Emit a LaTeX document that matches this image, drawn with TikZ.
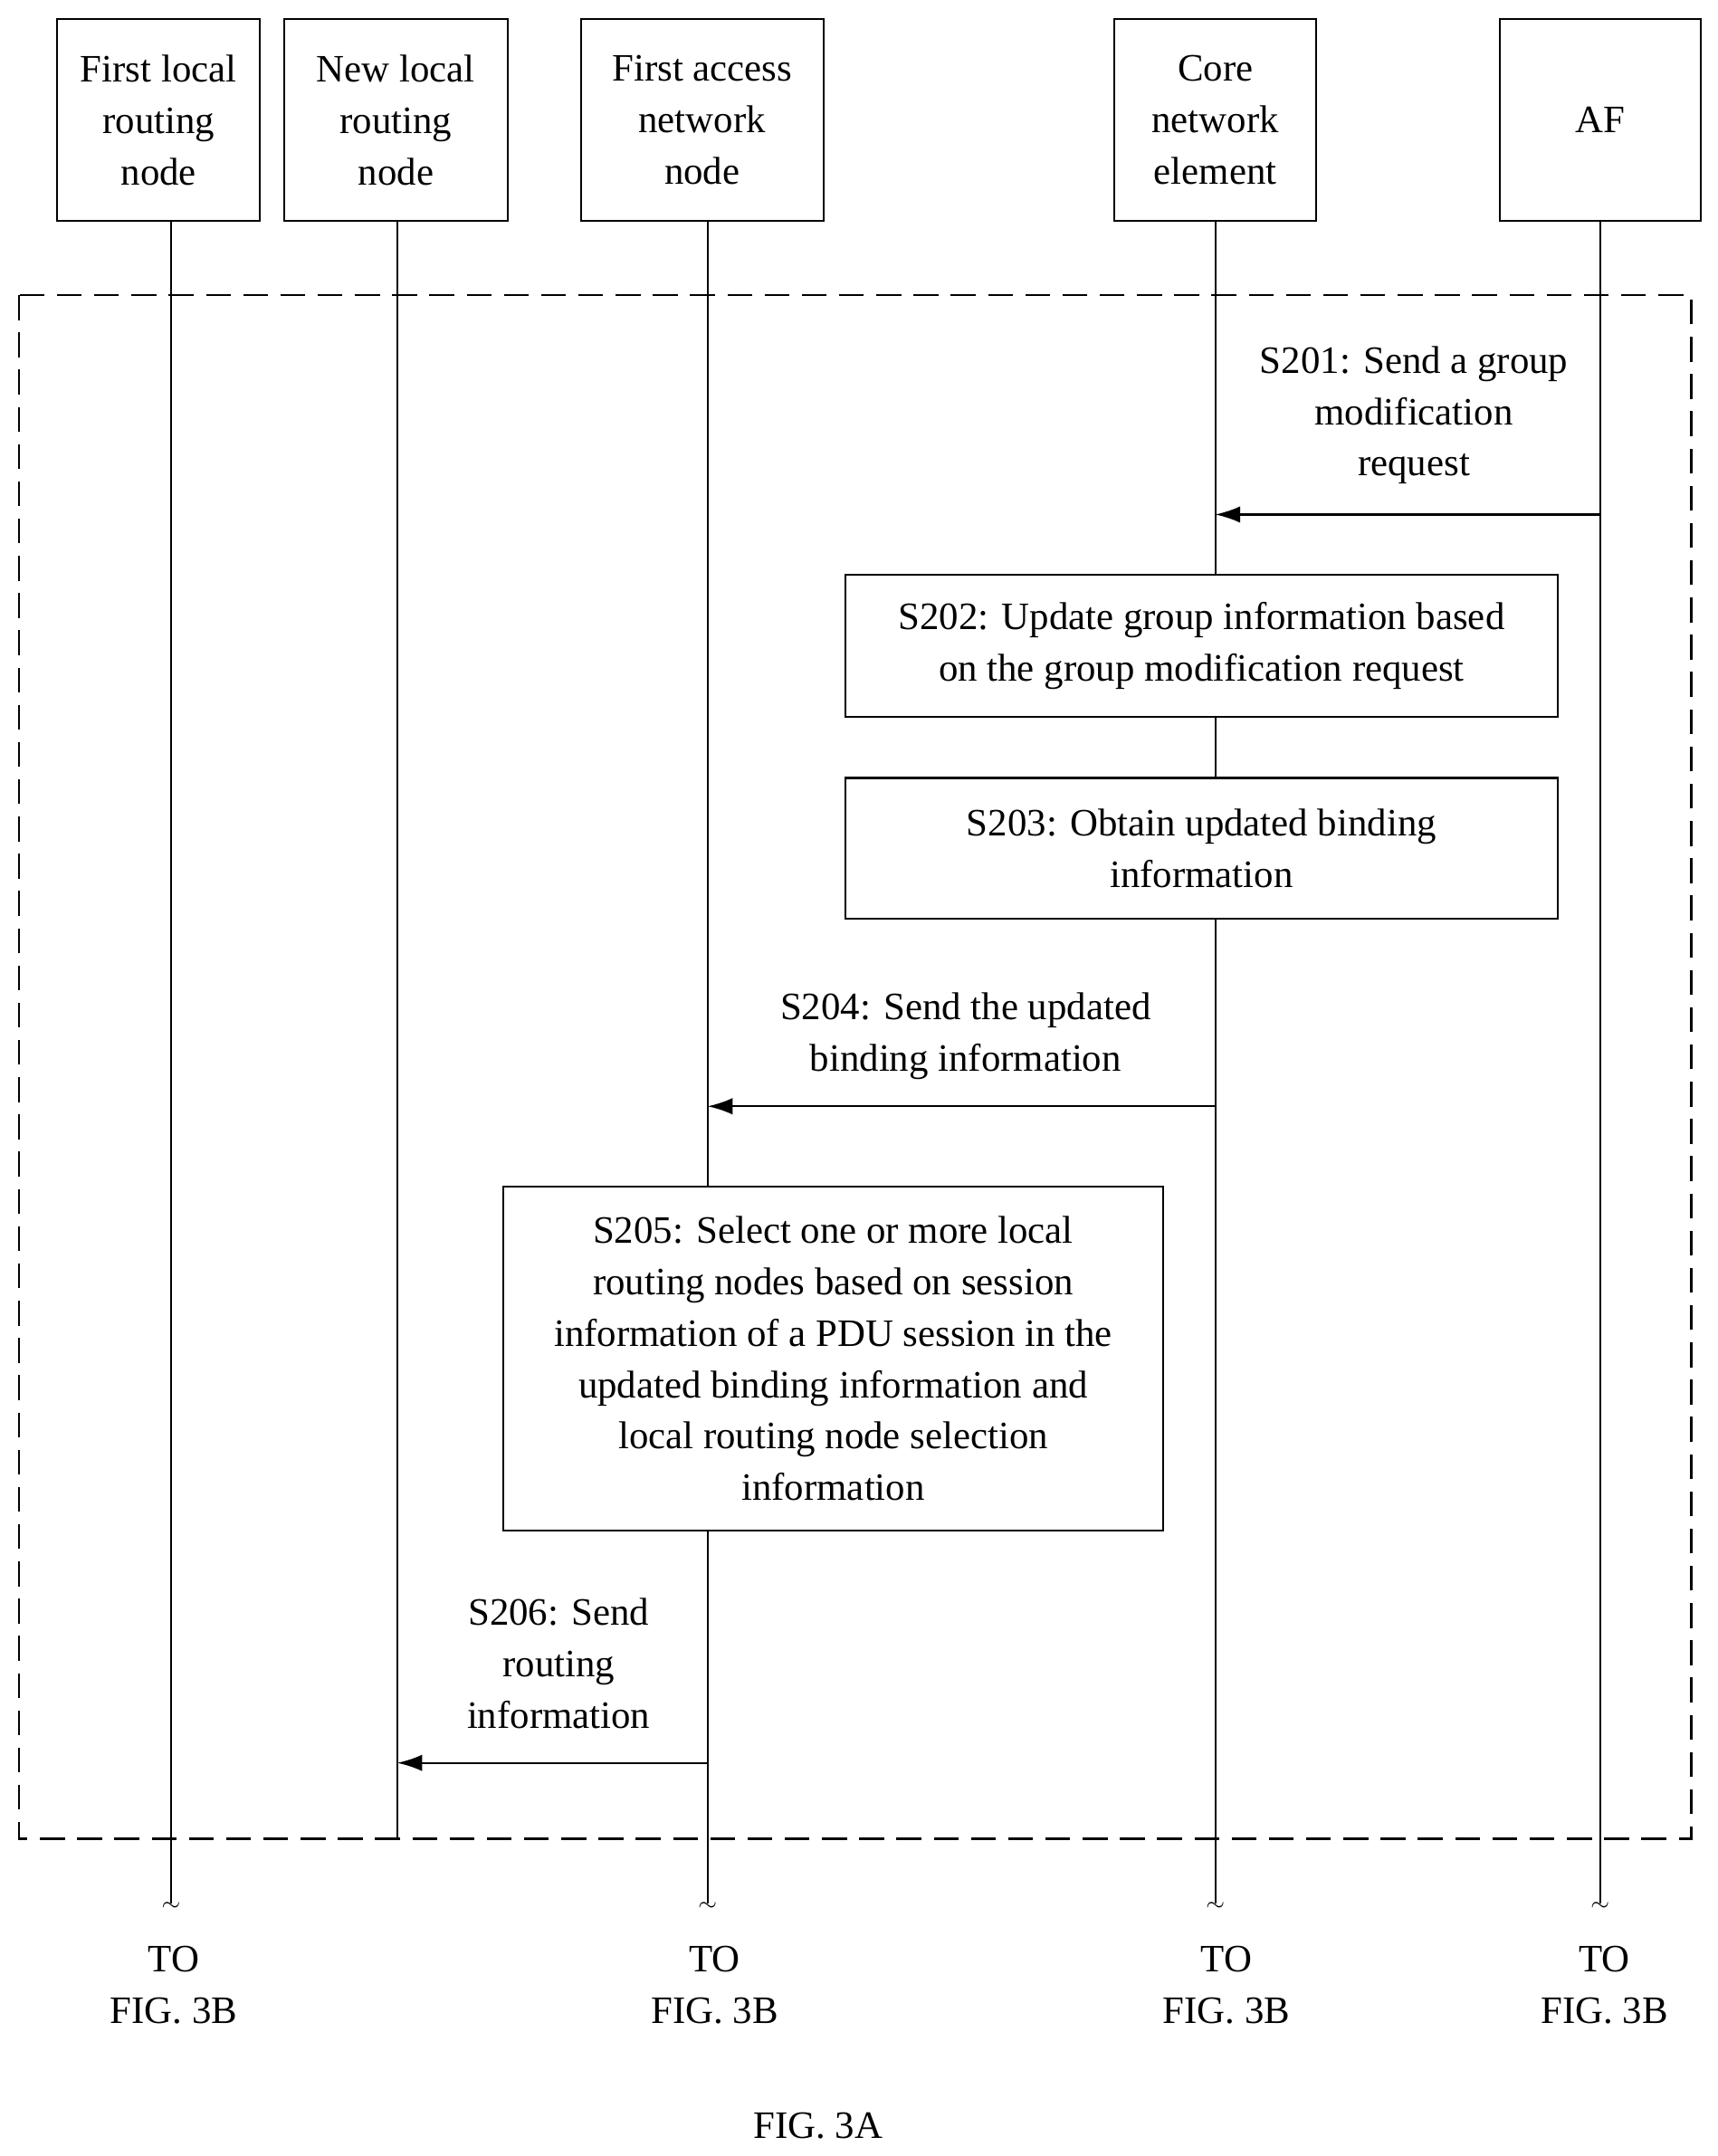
\documentclass[tikz,border=0pt]{standalone}
\usepackage{fontspec}
\setmainfont{Liberation Serif}
\usetikzlibrary{arrows.meta, positioning}
\tikzset{
  actor/.style={draw, line width=2pt, minimum height=146*0.05cm, align=center},
  action/.style={draw, line width=2pt, fill=white, align=center},
  msg/.style={line width=2pt, -{Latex[length=0.9cm,width=0.6cm]}},
  life/.style={line width=2pt},
  lbl/.style={align=center},
}
\begin{document}
\begin{tikzpicture}[x=0.05cm, y=-0.05cm, font=\fontsize{40}{53}\selectfont]
  \useasboundingbox (0,0) rectangle (1245,1563);
  % heads
  \node [actor, minimum width=147*0.05cm] (fl) at (115,87) {First local\\routing\\node};
  \node [actor, minimum width=162*0.05cm] (nl) at (287,87) {New local\\routing\\node};
  \node [actor, minimum width=176*0.05cm] (an) at (509,87) {First access\\network\\node};
  \node [actor, minimum width=146*0.05cm] (cn) at (881,87) {Core\\network\\element};
  \node [actor, minimum width=146*0.05cm] (af) at (1160,87) {AF};
  % lifelines
  \coordinate (flE) at (124,1380);
  \coordinate (nlE) at (288,1333);
  \coordinate (anE) at (513,1380);
  \coordinate (cnE) at (881,1380);
  \coordinate (afE) at (1160,1380);
  \draw [life] (124,160) -- (flE);
  \draw [life] (288,160) -- (nlE);
  \draw [life] (513,160) -- (anE);
  \draw [life] (881,160) -- (cnE);
  \draw [life] (1160,160) -- (afE);
  % frame
  \draw [line width=2pt, dash pattern=on 0.9cm off 0.45cm] (14,214) rectangle (1226,1333);
  % steps
  \node [action, minimum width=516*0.05cm, minimum height=103*0.05cm] (s202) at (871,468) {S202: Update group information based\\on the group modification request};
  \node [action, minimum width=516*0.05cm, minimum height=102*0.05cm] (s203) at (871,615) {S203: Obtain updated binding\\information};
  \node [action, minimum width=478*0.05cm, minimum height=249*0.05cm] (s205) at (604,985) {S205: Select one or more local\\routing nodes based on session\\information of a PDU session in the\\updated binding information and\\local routing node selection\\information};
  % messages
  \coordinate (m1a) at (1160,373); \coordinate (m1b) at (881,373);
  \draw [msg] (m1a) -- (m1b);
  \node [lbl] (l201) at (1025,301) {S201: Send a group\\modification\\request};
  \coordinate (m4a) at (881,802); \coordinate (m4b) at (513,802);
  \draw [msg] (m4a) -- (m4b);
  \node [lbl] (l204) at (700,751) {S204: Send the updated\\binding information};
  \coordinate (m6a) at (513,1278); \coordinate (m6b) at (288,1278);
  \draw [msg] (m6a) -- (m6b);
  \node [lbl] (l206) at (405,1206) {S206: Send\\routing\\information};
  % continuation
  \foreach \e/\x in {flE/126, anE/518, cnE/889, afE/1163} {
    \node [inner sep=0pt] at ([yshift=-0.1cm]\e) {\fontsize{30}{30}\selectfont$\sim$};
    \node [lbl] at (\x,1439) {TO\\FIG. 3B};
  }
  \node (cap) at (593,1541) {FIG. 3A};
\end{tikzpicture}
\end{document}
